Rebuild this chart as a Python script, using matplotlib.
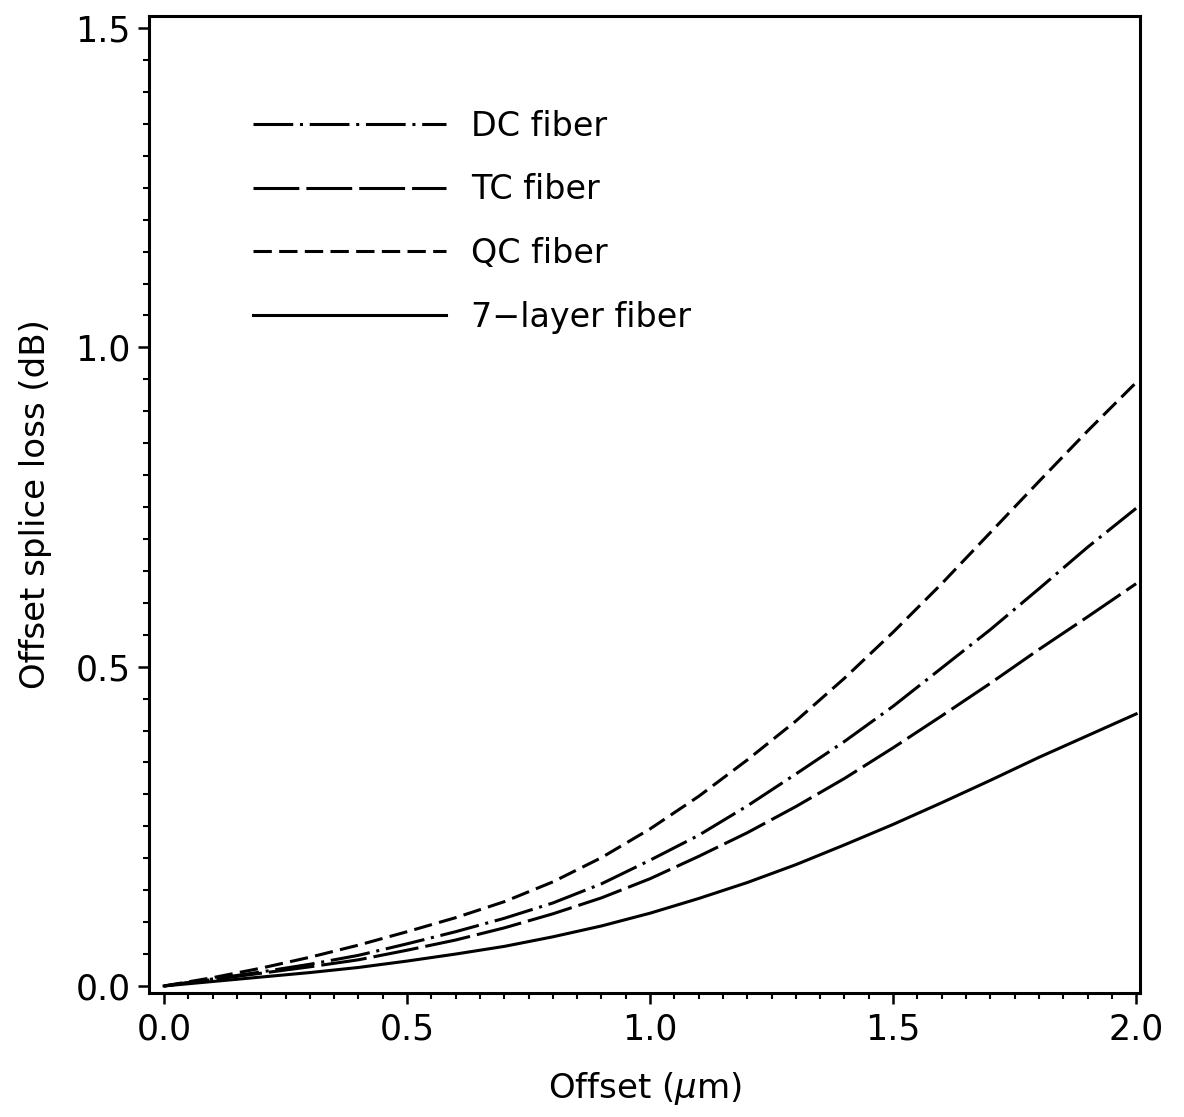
import matplotlib
matplotlib.use("Agg")
import matplotlib.pyplot as plt
from matplotlib.ticker import MultipleLocator, FixedLocator

# Data
offset = [0.0, 0.1, 0.2, 0.3, 0.4, 0.5, 0.6, 0.7, 0.8, 0.9, 1.0,
          1.1, 1.2, 1.3, 1.4, 1.5, 1.6, 1.7, 1.8, 1.9, 2.0]
dc_loss = [0.0, 0.011, 0.022, 0.034, 0.048, 0.066, 0.085, 0.106, 0.130, 0.160, 0.197,
           0.236, 0.282, 0.332, 0.383, 0.438, 0.498, 0.558, 0.622, 0.687, 0.748]
tc_loss = [0.0, 0.010, 0.020, 0.030, 0.041, 0.056, 0.072, 0.091, 0.113, 0.138, 0.168,
           0.203, 0.240, 0.281, 0.325, 0.373, 0.423, 0.474, 0.527, 0.578, 0.630]
qc_loss = [0.0, 0.013, 0.028, 0.045, 0.064, 0.085, 0.107, 0.132, 0.163, 0.201, 0.246,
           0.297, 0.354, 0.415, 0.482, 0.554, 0.630, 0.710, 0.790, 0.869, 0.945]
l7_loss = [0.0, 0.007, 0.014, 0.021, 0.029, 0.039, 0.050, 0.062, 0.077, 0.094, 0.114,
           0.137, 0.162, 0.190, 0.221, 0.253, 0.287, 0.322, 0.358, 0.392, 0.426]
labels = ["DC fiber", "TC fiber", "QC fiber", "7\u2212layer fiber"]
xticks = [0.0, 0.5, 1.0, 1.5, 2.0]
yticks = [0.0, 0.5, 1.0, 1.5]

plt.rcParams['font.family'] = ['DejaVu Sans']
fig = plt.figure(figsize=(11.84, 11.17), dpi=100)
ax = fig.add_axes([149/1184, 1 - 993/1117, (1140-149)/1184, (993-16)/1117])

lw = 2.2
ax.plot(offset, dc_loss, color='black', lw=lw, dashes=(13, 2.2, 1, 2.2), label=labels[0])
ax.plot(offset, tc_loss, color='black', lw=lw, dashes=(15, 2.3), label=labels[1])
ax.plot(offset, qc_loss, color='black', lw=lw, dashes=(6, 2.4), label=labels[2])
ax.plot(offset, l7_loss, color='black', lw=lw, ls='-', label=labels[3])

ax.set_xlim(-0.031, 2.008)
ax.set_ylim(-0.011, 1.519)

ax.xaxis.set_major_locator(FixedLocator(xticks))
ax.yaxis.set_major_locator(FixedLocator(yticks))
ax.xaxis.set_minor_locator(MultipleLocator(0.05))
ax.yaxis.set_minor_locator(MultipleLocator(0.05))
ax.set_xticklabels([f"{v:.1f}" for v in xticks])
ax.set_yticklabels([f"{v:.1f}" for v in yticks])

ax.tick_params(which='major', direction='out', length=8, width=1.8, labelsize=25, pad=6)
ax.tick_params(which='minor', direction='out', length=4.5, width=1.5)
ax.tick_params(axis='y', which='both', pad=5)
for s in ax.spines.values():
    s.set_linewidth(2.2)

ax.set_xlabel(r"Offset ($\mu$m)", fontsize=24.5, labelpad=17)
ax.set_ylabel("Offset splice loss (dB)", fontsize=24.5, labelpad=17)

leg = ax.legend(loc='upper left', bbox_to_anchor=(0.105, 0.904), frameon=False,
                fontsize=24, handlelength=5.8, handletextpad=0.75, labelspacing=0.92,
                borderpad=0, borderaxespad=0)

fig.savefig("out.png", dpi=100, facecolor='white')
